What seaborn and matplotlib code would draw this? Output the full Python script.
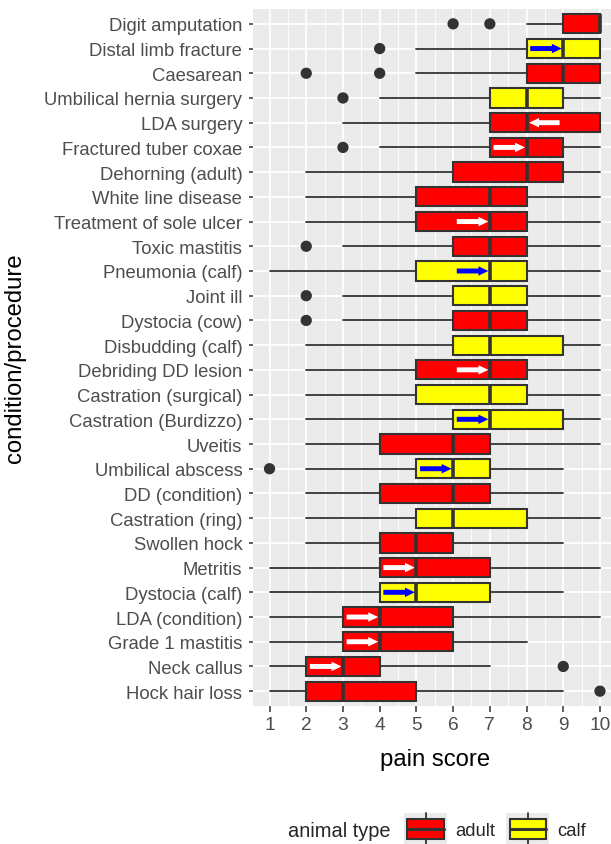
import matplotlib
matplotlib.use("Agg")
import matplotlib.pyplot as plt
from matplotlib.patches import Rectangle, Patch
from matplotlib.lines import Line2D
from matplotlib.legend_handler import HandlerBase
import numpy as np
import pandas as pd
import seaborn as sns

# ---------------- data ----------------
conditions = [
    "Digit amputation", "Distal limb fracture", "Caesarean", "Umbilical hernia surgery",
    "LDA surgery", "Fractured tuber coxae", "Dehorning (adult)", "White line disease",
    "Treatment of sole ulcer", "Toxic mastitis", "Pneumonia (calf)", "Joint ill",
    "Dystocia (cow)", "Disbudding (calf)", "Debriding DD lesion", "Castration (surgical)",
    "Castration (Burdizzo)", "Uveitis", "Umbilical abscess", "DD (condition)",
    "Castration (ring)", "Swollen hock", "Metritis", "Dystocia (calf)",
    "LDA (condition)", "Grade 1 mastitis", "Neck callus", "Hock hair loss",
]
animal_type = [
    "adult", "calf", "adult", "calf", "adult", "adult", "adult", "adult",
    "adult", "adult", "calf", "calf", "adult", "calf", "adult", "calf",
    "calf", "adult", "calf", "adult", "calf", "adult", "adult", "calf",
    "adult", "adult", "adult", "adult",
]
whisker_low = [8, 5, 5, 4, 3, 4, 2, 2, 2, 3, 1, 3, 3, 2, 2, 2, 2, 2, 2, 2, 2, 2, 1, 1, 1, 1, 1, 1]
q1 = [9, 8, 8, 7, 7, 7, 6, 5, 5, 6, 5, 6, 6, 6, 5, 5, 6, 4, 5, 4, 5, 4, 4, 4, 3, 3, 2, 2]
median = [10, 9, 9, 8, 8, 8, 8, 7, 7, 7, 7, 7, 7, 7, 7, 7, 7, 6, 6, 6, 6, 5, 5, 5, 4, 4, 3, 3]
q3 = [10, 10, 10, 9, 10, 9, 9, 8, 8, 8, 8, 8, 8, 9, 8, 8, 9, 7, 7, 7, 8, 6, 7, 7, 6, 6, 4, 5]
whisker_high = [10, 10, 10, 10, 10, 10, 10, 10, 10, 10, 10, 10, 10, 10, 10, 10, 10, 10, 9, 9, 10, 9, 10, 9, 10, 8, 7, 9]

outlier_condition = [
    "Digit amputation", "Digit amputation", "Distal limb fracture", "Caesarean", "Caesarean",
    "Umbilical hernia surgery", "Fractured tuber coxae", "Toxic mastitis", "Joint ill",
    "Dystocia (cow)", "Umbilical abscess", "Neck callus", "Hock hair loss",
]
outlier_score = [6, 7, 4, 2, 4, 3, 3, 2, 2, 2, 1, 9, 10]

arrow_condition = [
    "Distal limb fracture", "LDA surgery", "Fractured tuber coxae", "Treatment of sole ulcer",
    "Pneumonia (calf)", "Debriding DD lesion", "Castration (Burdizzo)", "Umbilical abscess",
    "Metritis", "Dystocia (calf)", "LDA (condition)", "Grade 1 mastitis", "Neck callus",
]
arrow_start = [8.1, 8.9, 7.1, 6.1, 6.1, 6.1, 6.1, 5.1, 4.1, 4.1, 3.1, 3.1, 2.1]
arrow_end = [8.96, 8.07, 7.96, 6.96, 6.96, 6.96, 6.96, 5.96, 4.96, 4.96, 3.96, 3.96, 2.96]

x_ticks = [1, 2, 3, 4, 5, 6, 7, 8, 9, 10]

fill_colours = {"adult": "#FF0000", "calf": "#FFFF00"}
arrow_colours = {"adult": "white", "calf": "#0000FF"}
dark = "#333333"

# ---------------- style ----------------
sns.set_theme(style="darkgrid", rc={
    "axes.facecolor": "#EBEBEB",
    "grid.color": "white",
    "axes.edgecolor": "none",
    "xtick.color": dark,
    "ytick.color": dark,
    "xtick.labelcolor": "#4D4D4D",
    "ytick.labelcolor": "#4D4D4D",
})
plt.rcParams["font.family"] = ["Liberation Sans", "DejaVu Sans"]

W, H = 611, 845
fig = plt.figure(figsize=(W / 100, H / 100), dpi=100)
fig.patch.set_facecolor("white")
pl, pr, pt, pb = 253, 616.5, 10, 707
ax = fig.add_axes([pl / W, (H - pb) / H, (pr - pl) / W, (pb - pt) / H])

positions = np.arange(len(conditions))

stats = [
    dict(med=m, q1=a, q3=b, whislo=lo, whishi=hi, fliers=[], label=c)
    for c, lo, a, m, b, hi in zip(conditions, whisker_low, q1, median, q3, whisker_high)
]
res = ax.bxp(
    stats, positions=positions, orientation="horizontal", widths=0.78,
    patch_artist=True, showfliers=False, showcaps=False,
    boxprops=dict(edgecolor=dark, linewidth=1.5),
    medianprops=dict(color=dark, linewidth=2.6, solid_capstyle="butt"),
    whiskerprops=dict(color=dark, linewidth=1.3),
    manage_ticks=False,
)
for box, t in zip(res["boxes"], animal_type):
    box.set_facecolor(fill_colours[t])
    box.set_zorder(3)
for med in res["medians"]:
    med.set_zorder(5)

# outliers
out_df = pd.DataFrame({
    "score": outlier_score,
    "pos": [conditions.index(c) for c in outlier_condition],
})
sns.scatterplot(data=out_df, x="score", y="pos", ax=ax, color=dark, s=66,
                edgecolor="none", legend=False, zorder=4)

# arrows
for c, s0, s1 in zip(arrow_condition, arrow_start, arrow_end):
    i = conditions.index(c)
    ax.arrow(s0, i, s1 - s0, 0, width=0.2, head_width=0.38, head_length=0.27,
             length_includes_head=True, facecolor=arrow_colours[animal_type[i]],
             edgecolor="none", zorder=4.5)

# axes
ax.set_xlim(0.55, 10.45)
ax.set_ylim(len(conditions) - 0.4, -0.6)
ax.set_xticks(x_ticks)
ax.set_xticklabels([str(v) for v in x_ticks])
ax.set_xticks([v + 0.5 for v in x_ticks[:-1]], minor=True)
ax.set_yticks(positions)
ax.set_yticklabels(conditions)
ax.grid(which="major", color="white", linewidth=1.3)
ax.grid(which="minor", axis="x", color="white", linewidth=0.65)
ax.tick_params(axis="x", which="major", length=4.5, width=1.1, pad=3, labelsize=13.8, bottom=True)
ax.tick_params(axis="y", which="major", length=3.2, width=1.1, pad=4.5, labelsize=13.3, left=True)
ax.tick_params(which="minor", length=0)
for sp in ax.spines.values():
    sp.set_visible(False)
ax.set_axisbelow(True)

ax.set_xlabel("pain score", fontsize=17.2, color="black")
ax.set_ylabel("condition/procedure", fontsize=17.2, color="black")
ax.xaxis.set_label_coords(0.5, (pb - 760) / (pb - pt))
ax.xaxis.label.set_va("center")
ax.yaxis.set_label_coords((15 - pl) / (pr - pl), 0.5)
ax.yaxis.label.set_va("center")


# legend
class BoxKey(HandlerBase):
    def create_artists(self, legend, orig_handle, xdescent, ydescent, width, height, fontsize, trans):
        x0, y0 = -xdescent, -ydescent
        fc = orig_handle.get_facecolor()
        bg = Rectangle((x0, y0), width, height, facecolor="#EBEBEB", edgecolor="none", transform=trans)
        bx = Rectangle((x0 + 0.08 * width, y0 + 0.2 * height), 0.84 * width, 0.6 * height,
                       facecolor=fc, edgecolor=dark, lw=1.5, transform=trans)
        md = Line2D([x0 + 0.08 * width, x0 + 0.92 * width], [y0 + 0.5 * height] * 2,
                    color=dark, lw=2.2, transform=trans)
        w1 = Line2D([x0 + width / 2] * 2, [y0 + 0.8 * height, y0 + height], color=dark, lw=1.3, transform=trans)
        w2 = Line2D([x0 + width / 2] * 2, [y0, y0 + 0.2 * height], color=dark, lw=1.3, transform=trans)
        return [bg, bx, md, w1, w2]


leg_fs = 13.3
fs_px = leg_fs * 100 / 72
handles = [Patch(facecolor=fill_colours[k]) for k in ["adult", "calf"]]
fig.legend(handles, ["adult", "calf"], loc="center left",
           bbox_to_anchor=(404 / W, 1 - 830 / H), ncol=2, frameon=False,
           fontsize=leg_fs, handler_map={Patch: BoxKey()},
           handlelength=43 / fs_px, handleheight=43 / fs_px,
           handletextpad=0.45, columnspacing=0.6, borderpad=0, borderaxespad=0)
fig.text(288 / W, 1 - 832 / H, "animal type", fontsize=14.4, va="center", ha="left")

fig.savefig("out.png", dpi=100)
